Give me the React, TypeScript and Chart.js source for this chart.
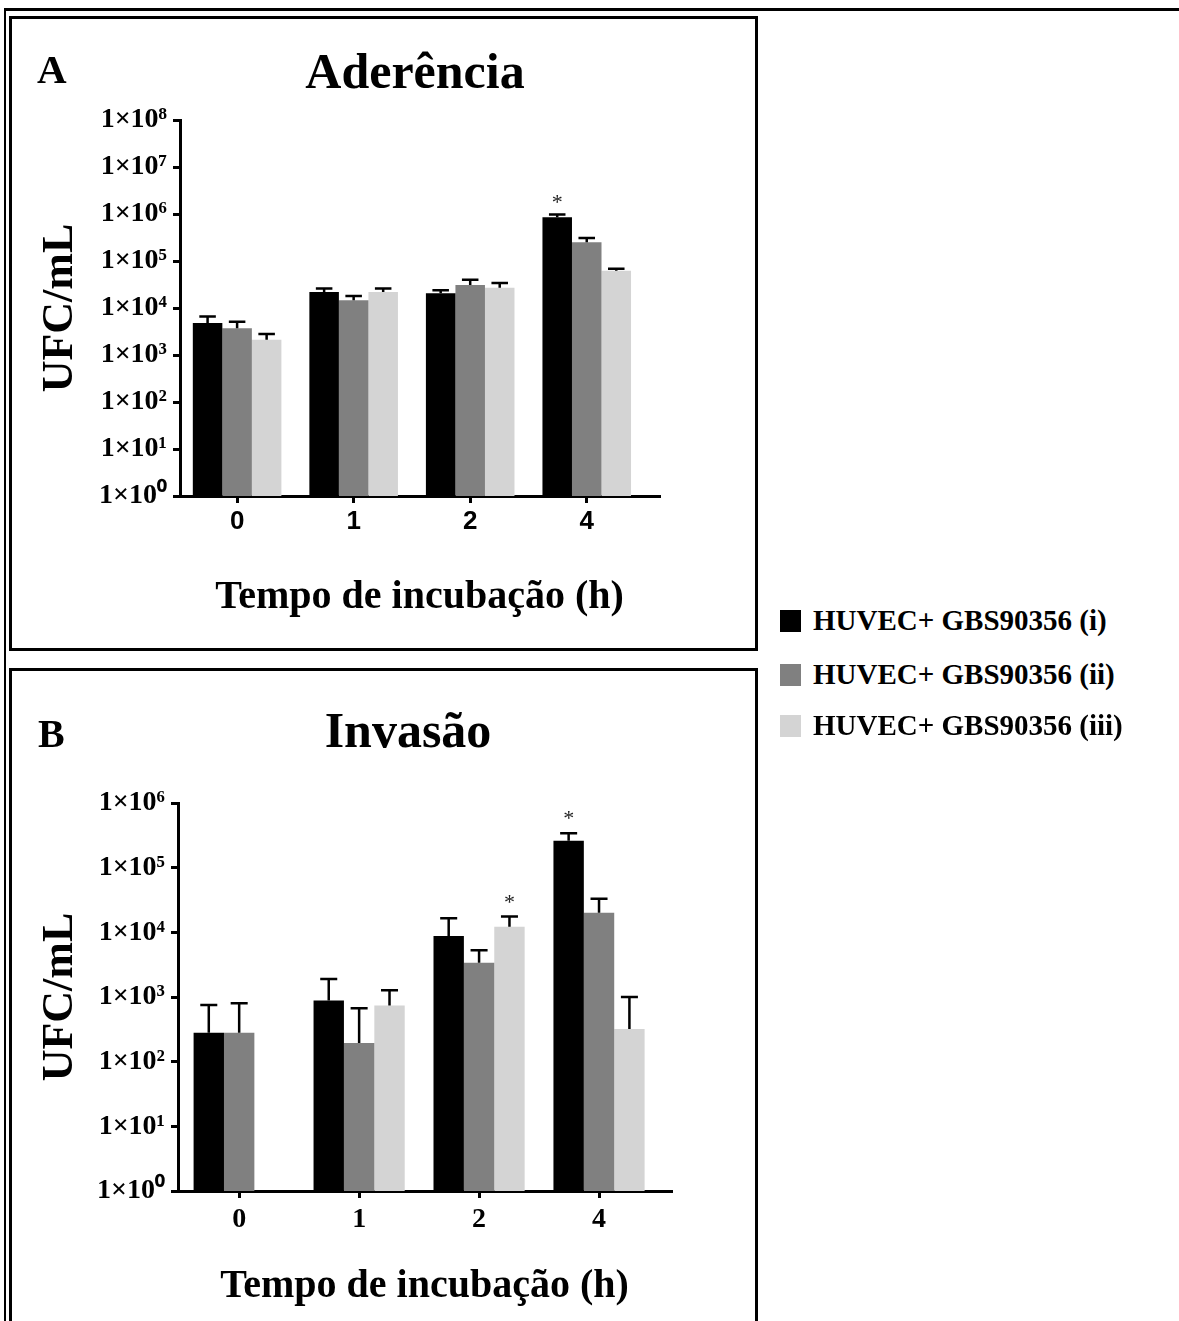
import React, { useEffect, useRef } from 'react';
import { Chart, registerables } from 'chart.js';

Chart.register(...registerables);

// ---------- data ----------
const categories = ['0', '1', '2', '4'];
const seriesLabels = ['HUVEC+ GBS90356 (i)', 'HUVEC+ GBS90356 (ii)', 'HUVEC+ GBS90356 (iii)'];
const seriesColors = ['#000000', '#808080', '#d4d4d4'];

// Panel A - Aderência (UFC/mL)
const adherenceI = [4.8e3, 2.2e4, 2.05e4, 8.5e5];
const adherenceII = [3.7e3, 1.46e4, 3.1e4, 2.5e5];
const adherenceIII = [2.1e3, 2.2e4, 2.7e4, 6.2e4];
const adherenceErrI = [6.6e3, 2.6e4, 2.4e4, 9.8e5];
const adherenceErrII = [5.1e3, 1.8e4, 4.0e4, 3.1e5];
const adherenceErrIII = [2.8e3, 2.6e4, 3.4e4, 6.8e4];
const adherenceStarI = [false, false, false, true];
const adherenceStarII = [false, false, false, false];
const adherenceStarIII = [false, false, false, false];

// Panel B - Invasão (UFC/mL)
const invasionI = [2.8e2, 8.8e2, 8.8e3, 2.6e5];
const invasionII = [2.8e2, 1.95e2, 3.4e3, 2.0e4];
const invasionIII = [null, 7.4e2, 1.22e4, 3.2e2];
const invasionErrI = [7.5e2, 1.9e3, 1.65e4, 3.4e5];
const invasionErrII = [8.0e2, 6.7e2, 5.3e3, 3.3e4];
const invasionErrIII = [null, 1.27e3, 1.75e4, 1.0e3];
const invasionStarI = [false, false, false, true];
const invasionStarII = [false, false, false, false];
const invasionStarIII = [false, false, true, false];

const yTicksA = [1, 1e1, 1e2, 1e3, 1e4, 1e5, 1e6, 1e7, 1e8];
const yTicksB = [1, 1e1, 1e2, 1e3, 1e4, 1e5, 1e6];

const SERIF = '"Liberation Serif", "Times New Roman", serif';
const SANS = '"Liberation Sans", Arial, sans-serif';
const SUP = ['⁰', '¹', '²', '³', '⁴', '⁵', '⁶', '⁷', '⁸', '⁹'];

function powLabel(v: number) {
  const e = Math.round(Math.log10(v));
  return '1×10' + String(e).split('').map((d) => SUP[+d]).join('');
}

function errorBarPlugin(upper: (number | null)[][], stars: boolean[][], starGap: number) {
  return {
    id: 'errorBars',
    afterDatasetsDraw(chart: any) {
      const ctx = chart.ctx;
      const y = chart.scales.y;
      ctx.save();
      ctx.strokeStyle = '#000';
      ctx.fillStyle = '#222';
      ctx.lineWidth = 2.5;
      chart.data.datasets.forEach((ds: any, di: number) => {
        const meta = chart.getDatasetMeta(di);
        meta.data.forEach((bar: any, i: number) => {
          const v = ds.data[i];
          const u = upper[di][i];
          if (v == null || u == null) return;
          const top = y.getPixelForValue(v);
          const ey = y.getPixelForValue(u);
          const half = bar.width * 0.28;
          ctx.beginPath();
          ctx.moveTo(bar.x, top);
          ctx.lineTo(bar.x, ey);
          ctx.moveTo(bar.x - half, ey);
          ctx.lineTo(bar.x + half, ey);
          ctx.stroke();
          if (stars[di][i]) {
            ctx.font = '22px ' + SERIF;
            ctx.textAlign = 'center';
            ctx.textBaseline = 'alphabetic';
            ctx.fillText('*', bar.x, ey - starGap + 11);
          }
        });
      });
      ctx.restore();
    },
  };
}

type PanelCfg = {
  series: (number | null)[][];
  upper: (number | null)[][];
  stars: boolean[][];
  yTicks: number[];
  yMax: number;
  xMin: number;
  xMax: number;
  padRight: number;
  padTop: number;
  yWidth: number;
  xHeight: number;
  xTickFont: any;
  xTickPad: number;
  xTitlePadBottom: number;
  starGap: number;
};

function makeChart(canvas: HTMLCanvasElement, c: PanelCfg) {
  const axisGrid = {
    drawOnChartArea: false,
    drawTicks: true,
    tickLength: 7,
    lineWidth: 3,
    color: '#000',
  };
  const axisBorder = { display: true, color: '#000', width: 3 };
  return new Chart(canvas, {
    type: 'bar',
    data: {
      labels: categories.map((_, i) => i),
      datasets: c.series.map((d, i) => ({
        label: seriesLabels[i],
        data: d,
        backgroundColor: seriesColors[i],
        borderWidth: 0,
        categoryPercentage: 0.76,
        barPercentage: 1,
      })),
    },
    options: {
      animation: false,
      responsive: false,
      devicePixelRatio: 1,
      layout: { padding: { left: 0, right: c.padRight, top: c.padTop, bottom: 0 } },
      plugins: {
        legend: { display: false },
        title: { display: false },
        tooltip: { enabled: false },
      },
      scales: {
        x: {
          type: 'linear',
          offset: false,
          min: c.xMin,
          max: c.xMax,
          afterBuildTicks: (ax: any) => {
            ax.ticks = categories.map((_, i) => ({ value: i }));
          },
          afterFit: (ax: any) => {
            ax.height = c.xHeight;
          },
          ticks: {
            callback: (v: any) => categories[Math.round(Number(v))],
            font: c.xTickFont,
            color: '#000',
            padding: c.xTickPad,
            autoSkip: false,
            maxRotation: 0,
          },
          grid: { ...axisGrid, offset: false },
          border: axisBorder,
          title: {
            display: true,
            text: 'Tempo de incubação (h)',
            color: '#000',
            font: { family: SERIF, size: 40, weight: 'bold' },
            padding: { top: 0, bottom: c.xTitlePadBottom },
          },
        },
        y: {
          type: 'logarithmic',
          min: 1,
          max: c.yMax,
          afterBuildTicks: (ax: any) => {
            ax.ticks = c.yTicks.map((v) => ({ value: v }));
          },
          afterFit: (ax: any) => {
            ax.width = c.yWidth;
          },
          ticks: {
            callback: (v: any) => powLabel(Number(v)),
            font: { family: SERIF, size: 28, weight: 'bold' },
            color: '#000',
            padding: 6,
            autoSkip: false,
          },
          grid: axisGrid,
          border: axisBorder,
          title: {
            display: true,
            text: 'UFC/mL',
            color: '#000',
            font: { family: SERIF, size: 44, weight: 'bold' },
            padding: { top: 22, bottom: 0 },
          },
        },
      },
    } as any,
    plugins: [errorBarPlugin(c.upper, c.stars, c.starGap)],
  });
}

function ChartCanvas({ cfg, width, height }: { cfg: PanelCfg; width: number; height: number }) {
  const ref = useRef<HTMLCanvasElement | null>(null);
  useEffect(() => {
    if (!ref.current) return;
    const ch = makeChart(ref.current, cfg);
    return () => ch.destroy();
  }, []);
  return (
    <canvas
      ref={ref}
      width={width}
      height={height}
      style={{ position: 'absolute', left: 0, top: 0, width, height, display: 'block' }}
    />
  );
}

const cfgA: PanelCfg = {
  series: [adherenceI, adherenceII, adherenceIII],
  upper: [adherenceErrI, adherenceErrII, adherenceErrIII],
  stars: [adherenceStarI, adherenceStarII, adherenceStarIII],
  yTicks: yTicksA,
  yMax: 1e8,
  xMin: -0.49,
  xMax: 3.62,
  padRight: 96,
  padTop: 101,
  yWidth: 168,
  xHeight: 152,
  xTickFont: { family: SANS, size: 26, weight: 'bold' },
  xTickPad: 3,
  xTitlePadBottom: 26,
  starGap: 16,
};

const cfgB: PanelCfg = {
  series: [invasionI, invasionII, invasionIII],
  upper: [invasionErrI, invasionErrII, invasionErrIII],
  stars: [invasionStarI, invasionStarII, invasionStarIII],
  yTicks: yTicksB,
  yMax: 1e6,
  xMin: -0.51,
  xMax: 3.6,
  padRight: 84,
  padTop: 132,
  yWidth: 166,
  xHeight: 130,
  xTickFont: { family: SERIF, size: 28, weight: 'bold' },
  xTickPad: 5,
  xTitlePadBottom: 10,
  starGap: 19,
};

const textBase: React.CSSProperties = {
  position: 'absolute',
  fontFamily: SERIF,
  fontWeight: 'bold',
  color: '#000',
  lineHeight: 1,
  whiteSpace: 'nowrap',
};

function Centered({ cx, cy, size, children }: { cx: number; cy: number; size: number; children: any }) {
  return (
    <div
      style={{
        ...textBase,
        left: cx - 300,
        width: 600,
        textAlign: 'center',
        top: cy - size * 0.51,
        fontSize: size,
      }}
    >
      {children}
    </div>
  );
}

export default function App() {
  const legendRows = [621, 675, 726];
  return (
    <div
      style={{
        position: 'absolute',
        left: 0,
        top: 0,
        width: 1179,
        height: 1321,
        overflow: 'hidden',
        background: '#fff',
      }}
    >
      {/* outer frame lines */}
      <div style={{ position: 'absolute', left: 4, top: 8, width: 1175, height: 3, background: '#000' }} />
      <div style={{ position: 'absolute', left: 4, top: 8, width: 2, height: 1313, background: '#000' }} />

      {/* Panel A */}
      <div
        style={{
          position: 'absolute',
          left: 9,
          top: 16,
          width: 749,
          height: 635,
          border: '3px solid #000',
          boxSizing: 'border-box',
        }}
      >
        <ChartCanvas cfg={cfgA} width={743} height={629} />
      </div>
      <div style={{ ...textBase, left: 37, top: 70 - 21, fontSize: 41 }}>A</div>
      <Centered cx={415} cy={71} size={50}>
        Aderência
      </Centered>

      {/* Panel B */}
      <div
        style={{
          position: 'absolute',
          left: 9,
          top: 668,
          width: 749,
          height: 720,
          border: '3px solid #000',
          boxSizing: 'border-box',
        }}
      >
        <ChartCanvas cfg={cfgB} width={743} height={650} />
      </div>
      <div style={{ ...textBase, left: 38, top: 734 - 20, fontSize: 40 }}>B</div>
      <Centered cx={408} cy={730} size={50}>
        Invasão
      </Centered>

      {/* Legend */}
      {seriesLabels.map((lab, i) => (
        <React.Fragment key={lab}>
          <div
            style={{
              position: 'absolute',
              left: 780,
              top: legendRows[i] - 11,
              width: 21,
              height: 22,
              background: seriesColors[i],
            }}
          />
          <div style={{ ...textBase, left: 813, top: legendRows[i] - 15, fontSize: 29 }}>{lab}</div>
        </React.Fragment>
      ))}
    </div>
  );
}
